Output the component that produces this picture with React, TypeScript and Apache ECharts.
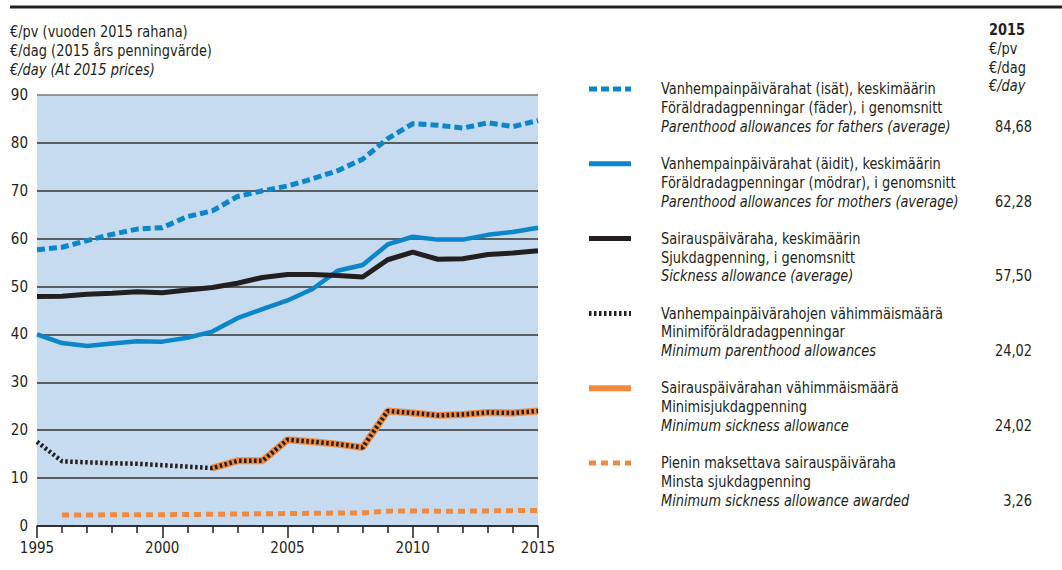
import React, { useEffect, useRef } from "react";
import * as echarts from "echarts";

const years = [1995, 1996, 1997, 1998, 1999, 2000, 2001, 2002, 2003, 2004, 2005, 2006, 2007, 2008, 2009, 2010, 2011, 2012, 2013, 2014, 2015];

const fathersAvg = [57.7, 58.2, 59.6, 60.9, 62.0, 62.3, 64.6, 65.8, 68.8, 70.0, 71.0, 72.5, 74.2, 76.6, 80.9, 84.0, 83.7, 83.1, 84.2, 83.4, 84.68];
const mothersAvg = [40.0, 38.2, 37.6, 38.1, 38.6, 38.5, 39.3, 40.6, 43.4, 45.3, 47.1, 49.5, 53.3, 54.5, 58.8, 60.4, 59.8, 59.8, 60.8, 61.4, 62.28];
const sicknessAvg = [47.9, 48.0, 48.4, 48.6, 48.9, 48.7, 49.3, 49.8, 50.7, 51.9, 52.5, 52.5, 52.3, 52.0, 55.6, 57.2, 55.7, 55.8, 56.7, 57.0, 57.5];
const minParenthood = [17.6, 13.5, 13.3, 13.1, 13.0, 12.7, 12.4, 12.1, 13.6, 13.6, 18.0, 17.6, 17.1, 16.4, 24.0, 23.6, 23.1, 23.3, 23.7, 23.6, 24.02];
const minSickness = [null, null, null, null, null, null, null, 12.1, 13.6, 13.6, 18.0, 17.6, 17.1, 16.4, 24.0, 23.6, 23.1, 23.3, 23.7, 23.6, 24.02];
const minSicknessAwarded = [null, 2.3, 2.3, 2.35, 2.35, 2.35, 2.4, 2.45, 2.5, 2.55, 2.6, 2.65, 2.7, 2.75, 3.1, 3.15, 3.1, 3.1, 3.15, 3.2, 3.26];

const yTicks = [0, 10, 20, 30, 40, 50, 60, 70, 80, 90];

const unitLabels = ["€/pv (vuoden 2015 rahana)", "€/dag (2015 års penningvärde)", "€/day (At 2015 prices)"];
const valueHeader = ["2015", "€/pv", "€/dag", "€/day"];

const legendItems = [
  { fi: "Vanhempainpäivärahat (isät), keskimäärin", sv: "Föräldradagpenningar (fäder), i genomsnitt", en: "Parenthood allowances for fathers (average)", value: "84,68" },
  { fi: "Vanhempainpäivärahat (äidit), keskimäärin", sv: "Föräldradagpenningar (mödrar), i genomsnitt", en: "Parenthood allowances for mothers (average)", value: "62,28" },
  { fi: "Sairauspäiväraha, keskimäärin", sv: "Sjukdagpenning, i genomsnitt", en: "Sickness allowance (average)", value: "57,50" },
  { fi: "Vanhempainpäivärahojen vähimmäismäärä", sv: "Minimiföräldradagpenningar", en: "Minimum parenthood allowances", value: "24,02" },
  { fi: "Sairauspäivärahan vähimmäismäärä", sv: "Minimisjukdagpenning", en: "Minimum sickness allowance", value: "24,02" },
  { fi: "Pienin maksettava sairauspäiväraha", sv: "Minsta sjukdagpenning", en: "Minimum sickness allowance awarded", value: "3,26" },
];

const BLUE = "#0a86c9";
const ORANGE = "#f18a3f";
const BLACK = "#231f20";
const FONT = "'Liberation Sans Narrow', 'DejaVu Sans Condensed', 'Roboto', sans-serif";
const SX = 0.9;

const pair = (arr: (number | null)[]) => years.map((y, i) => [y, arr[i]]);

export default function App() {
  const ref = useRef<HTMLDivElement>(null);
  useEffect(() => {
    if (!ref.current) return;
    const chart = echarts.init(ref.current, undefined, { renderer: "svg" });

    const legendStyles = [
      { color: BLUE, width: 5, dash: [8, 4] as any },
      { color: BLUE, width: 5, dash: "solid" as any },
      { color: BLACK, width: 5, dash: "solid" as any },
      { color: BLACK, width: 5, dash: [2.5, 2.5] as any },
      { color: ORANGE, width: 6, dash: "solid" as any },
      { color: ORANGE, width: 5, dash: [7, 5] as any },
    ];

    const txt = (x: number, y: number, text: string, opts: { italic?: boolean; bold?: boolean; align?: string }) => ({
      type: "text", x, y, scaleX: SX,
      style: {
        text, fill: BLACK,
        font: `${opts.italic ? "italic " : ""}${opts.bold ? "bold " : ""}16px ${FONT}`,
        align: opts.align || "left", verticalAlign: "middle",
      },
    });

    const graphics: any[] = [];
    graphics.push({ type: "line", shape: { x1: 10, y1: 7, x2: 1062, y2: 7 }, style: { stroke: "#222", lineWidth: 3 } });
    unitLabels.forEach((t, i) => graphics.push(txt(10, 32 + i * 18.7, t, { italic: i === 2 })));
    valueHeader.forEach((t, i) => graphics.push(txt(989, 30 + i * 18.7, t, { bold: i === 0, italic: i === 3 })));
    legendItems.forEach((it, i) => {
      const y0 = 89 + i * 74.8;
      const s = legendStyles[i];
      graphics.push({
        type: "line", shape: { x1: 589, y1: y0, x2: 631, y2: y0 },
        style: { stroke: s.color, lineWidth: s.width, lineDash: s.dash },
      });
      [it.fi, it.sv, it.en].forEach((t, j) => graphics.push(txt(661, y0 + j * 18.8, t, { italic: j === 2 })));
      graphics.push(txt(1032, y0 + 2 * 18.8, it.value, { align: "right" }));
    });

    const splitColors = yTicks.map((v) => (v === 90 ? "#777" : "#333"));

    chart.setOption({
      animation: false,
      grid: { left: 37, right: 524, top: 95, bottom: 44, show: true, backgroundColor: "#c6daf0", borderWidth: 0 },
      xAxis: {
        type: "value", min: 1995, max: 2015, interval: 5,
        axisLine: { show: true, lineStyle: { color: BLACK, width: 1.5 } },
        axisTick: { show: true, length: 12, lineStyle: { color: BLACK, width: 1.5 } },
        minorTick: { show: true, splitNumber: 5, length: 7, lineStyle: { color: BLACK, width: 1.5 } },
        axisLabel: { color: BLACK, fontSize: 15, fontFamily: FONT, margin: 14, formatter: (v: number) => String(v) },
        splitLine: { show: false },
      },
      yAxis: {
        type: "value", min: 0, max: 90, interval: 10,
        axisLine: { show: false }, axisTick: { show: false },
        axisLabel: { color: BLACK, fontSize: 15, fontFamily: FONT, margin: 9 },
        splitLine: { show: true, lineStyle: { color: splitColors, width: 1.5 } },
      },
      graphic: graphics,
      series: [
        { type: "line", data: pair(fathersAvg), showSymbol: false, lineStyle: { color: BLUE, width: 5, type: [8, 4] }, z: 5 },
        { type: "line", data: pair(mothersAvg), showSymbol: false, lineStyle: { color: BLUE, width: 4.5 }, z: 5 },
        { type: "line", data: pair(sicknessAvg), showSymbol: false, lineStyle: { color: BLACK, width: 5 }, z: 5 },
        { type: "line", data: pair(minSickness), showSymbol: false, lineStyle: { color: ORANGE, width: 7 }, z: 4 },
        { type: "line", data: pair(minParenthood), showSymbol: false, lineStyle: { color: BLACK, width: 4.5, type: [2.5, 2.5] }, z: 6 },
        { type: "line", data: pair(minSicknessAwarded), showSymbol: false, lineStyle: { color: ORANGE, width: 5, type: [7, 5] }, z: 5 },
      ],
    });
    return () => chart.dispose();
  }, []);
  return <div ref={ref} style={{ width: 1062, height: 570, position: "absolute", left: 0, top: 0 }} />;
}
